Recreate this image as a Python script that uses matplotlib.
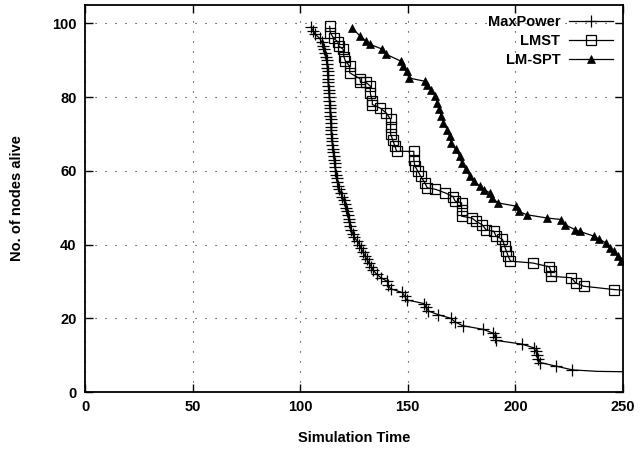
import matplotlib
matplotlib.use("Agg")
import matplotlib.pyplot as plt

plt.rcParams['font.family'] = ['Liberation Sans Narrow', 'Liberation Sans', 'DejaVu Sans']
plt.rcParams['font.weight'] = 'bold'

# ---- data ----
maxpower_t = [105, 106, 107, 109, 110, 110.5, 111, 111.5, 112, 112.3, 112.5, 112.6, 112.7, 112.8,
              112.9, 113, 113.1, 113.3, 113.4, 113.5, 113.6, 113.7, 113.8, 113.9, 114, 114.1, 114.2,
              114.3, 114.4, 114.5, 114.7, 114.8, 115, 115.2, 115.4, 115.6, 115.8, 116, 116.2, 116.4,
              116.7, 117, 117.3, 117.7, 118.2, 118.8, 119.6, 120.3, 120.8, 121.3, 121.7, 122.1, 122.5,
              122.9, 123.3, 123.8, 124.4, 125, 126.5, 127.5, 128.3, 129.2, 130, 131, 132, 133, 134,
              135.5, 137.5, 140.5, 141, 142, 147.5, 148.5, 149.5, 157.5, 158.5, 159.5, 164, 170, 172,
              175.5, 185, 189.5, 190.5, 191, 203, 208.5, 209.5, 210.2, 210.7, 211.5, 219, 226.5]
maxpower_n = list(range(99, 5, -1))

lmst_t = [113.7, 114, 115.5, 117.5, 118, 120, 120.3, 121, 123, 123, 127.8, 128, 130.6, 132.6, 132.6,
          133.5, 133.5, 137.3, 140, 142, 142, 142, 143, 144, 144.8, 152.8, 152.8, 153.3, 154.6, 156,
          158, 159, 162.8, 167.5, 171, 172, 175, 175, 175, 179.8, 181.7, 184.5, 186.4, 190, 191, 194,
          195, 195.8, 196.7, 197.7, 208, 215.6, 216.5, 216.5, 226, 228, 231.7, 245.8]
lmst_n = [99.2, 97.5, 96, 95, 93.8, 93, 91, 89.8, 88.4, 86.6, 85, 84, 84, 83, 81, 79, 78, 77, 75.7,
          74, 72, 70, 68.4, 66.7, 65.3, 65.3, 63, 61.3, 60, 58.5, 56.7, 55.4, 55, 54, 53, 51.8, 51.3,
          49.5, 47.7, 47.2, 46.3, 45.4, 44, 43.6, 42.3, 41.4, 39.5, 38.2, 36.8, 35.5, 35, 34, 32.8,
          31.4, 31, 29.6, 28.7, 27.8]

lmspt_t = [124, 127.8, 130.6, 132.6, 138.2, 140, 146.7, 147.7, 149.5, 150.5, 158, 159, 160.9, 162.8,
           163.7, 164.6, 165.6, 166.5, 168.4, 169.4, 170.3, 172.2, 174.1, 175, 177, 178.8, 180.7,
           183.5, 185.4, 188.3, 189.2, 192, 200.5, 201.5, 205.3, 214.7, 221.3, 223, 227.9, 229.8,
           236.4, 239, 242, 243.8, 245.8, 247.7, 249]
lmspt_n = [98.8, 96.6, 95.2, 94.3, 93, 91.6, 89.8, 88.4, 87, 85.2, 84.3, 83.4, 82, 80.2, 78.5, 76.7,
           74.8, 73, 71.2, 69.4, 67.6, 65.8, 64, 62.2, 60.4, 58.6, 57.2, 55.8, 54.9, 54, 52.7, 51.3,
           50.4, 49, 48.1, 47.2, 46.8, 45.4, 44, 43.6, 42.3, 41.4, 40.5, 39.1, 38.2, 36.8, 35.5]

# line tails to the right edge (no markers)
maxpower_tail_t = [226.5, 238, 250]
maxpower_tail_n = [6, 5.6, 5.5]
lmst_tail_t = [245.8, 250]
lmst_tail_n = [27.8, 27.6]

x_ticks = [0, 50, 100, 150, 200, 250]
y_ticks = [0, 20, 40, 60, 80, 100]

fig = plt.figure(figsize=(6.4, 4.51), dpi=100)
ax = fig.add_axes([85/640, 59/451, 538/640, 387/451])

ax.plot(maxpower_tail_t, maxpower_tail_n, color='black', lw=0.9)
ax.plot(lmst_tail_t, lmst_tail_n, color='black', lw=0.9)
ax.plot(maxpower_t, maxpower_n, color='black', lw=0.9, marker='+', ms=9, mew=0.9, label='MaxPower')
ax.plot(lmst_t, lmst_n, color='black', lw=0.9, marker='s', ms=7, mew=0.9, mfc='none', label='LMST')
ax.plot(lmspt_t, lmspt_n, color='black', lw=0.9, marker='^', ms=6, mew=0.5, mfc='black', label='LM-SPT')

ax.set_xlim(0, 250)
ax.set_ylim(0, 105)
ax.set_xticks(x_ticks)
ax.set_yticks(y_ticks)
ax.tick_params(direction='in', length=6, width=1, top=True, right=True, labelsize=10.5, pad=6)
for lab in ax.get_xticklabels() + ax.get_yticklabels():
    lab.set_fontweight('bold')
ax.grid(True, color='#222222', lw=0.8, linestyle=(0, (1, 8)))
for s in ax.spines.values():
    s.set_linewidth(1.3)

ax.set_xlabel('Simulation Time', fontsize=10.5, fontweight='bold', labelpad=12)
ax.set_ylabel('No. of nodes alive', fontsize=10.5, fontweight='bold', labelpad=20)

leg = ax.legend(loc='upper right', markerfirst=False, frameon=False, handlelength=3.0,
                fontsize=10.5, numpoints=1, borderaxespad=0.3, labelspacing=0.35,
                handletextpad=0.6)
for t in leg.get_texts():
    t.set_fontweight('bold')

fig.savefig('out.png', dpi=100)
